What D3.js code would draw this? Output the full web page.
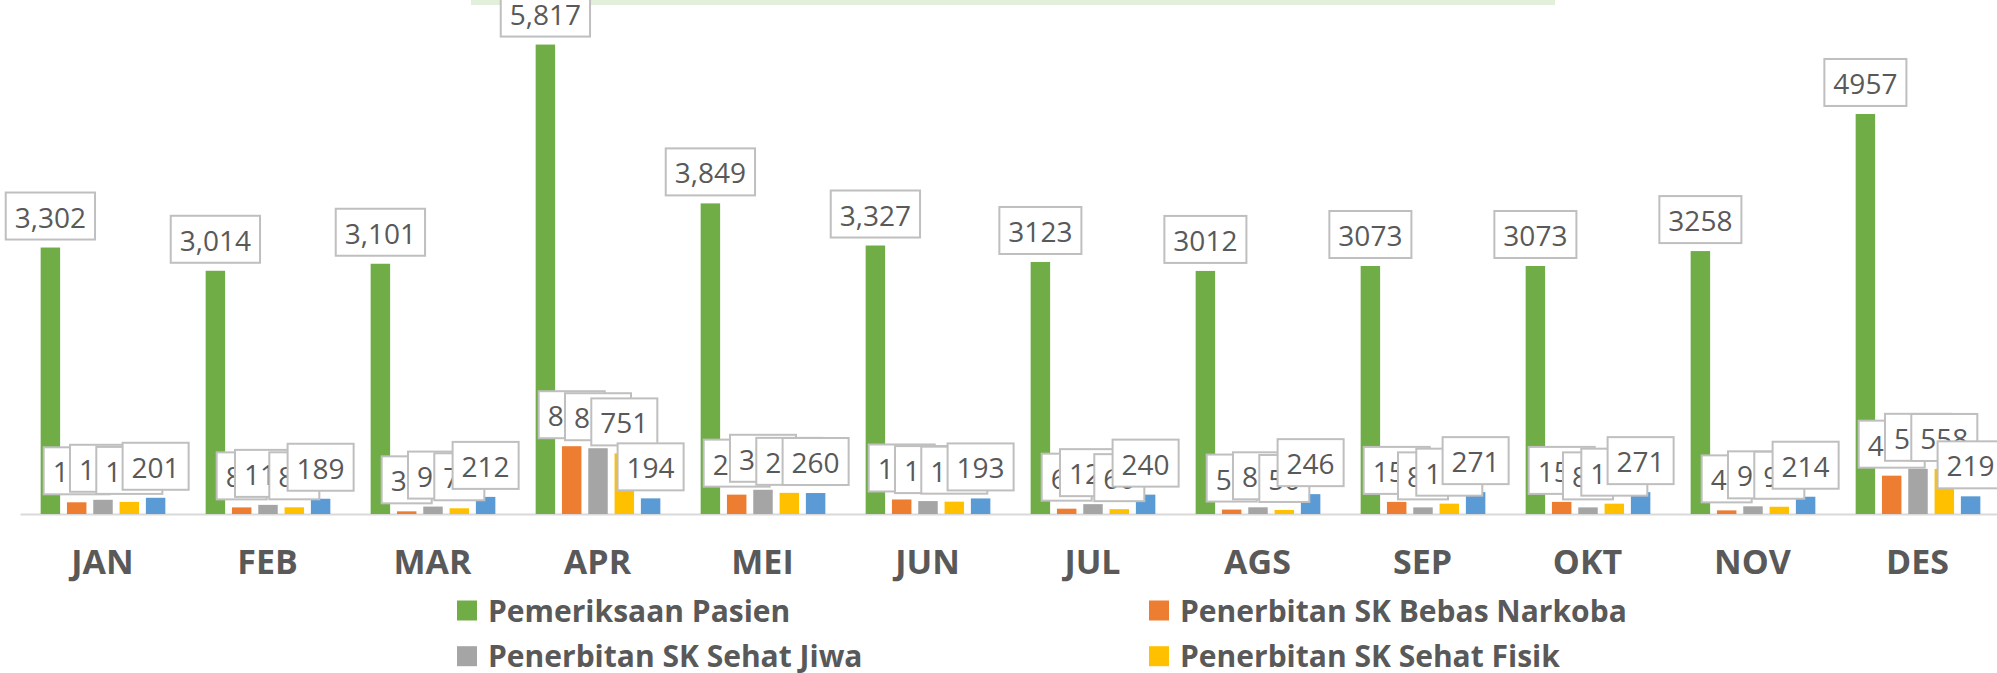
<!DOCTYPE html>
<html>
<head>
<meta charset="utf-8">
<script src="https://cdn.jsdelivr.net/npm/d3@7"></script>
<style>
  html, body { margin: 0; padding: 0; background: #fff; overflow: hidden; }
  svg { display: block; }
</style>
</head>
<body>
<div id="chart"></div>
<script>
// data
const bulan = ["JAN", "FEB", "MAR", "APR", "MEI", "JUN", "JUL", "AGS", "SEP", "OKT", "NOV", "DES"];
const pemeriksaanPasien = [3302, 3014, 3101, 5817, 3849, 3327, 3123, 3012, 3073, 3073, 3258, 4957];
const skBebasNarkoba = [145, 82, 33, 840, 240, 180, 66, 55, 150, 150, 45, 475];
const skSehatJiwa = [176, 113, 92, 815, 300, 160, 122, 83, 82, 82, 95, 560];
const skSehatFisik = [150, 83, 71, 751, 262, 153, 60, 50, 128, 128, 90, 558];
const seriBiru = [201, 189, 212, 194, 260, 193, 240, 246, 271, 271, 214, 219];
// labels of the first six months use a thousands separator
const labelKoma = [true, true, true, true, true, true, false, false, false, false, false, false];

const seri = [
  { nama: "Pemeriksaan Pasien", nilai: pemeriksaanPasien, warna: "#70ad47" },
  { nama: "Penerbitan SK Bebas Narkoba", nilai: skBebasNarkoba, warna: "#ed7d31" },
  { nama: "Penerbitan SK Sehat Jiwa", nilai: skSehatJiwa, warna: "#a5a5a5" },
  { nama: "Penerbitan SK Sehat Fisik", nilai: skSehatFisik, warna: "#ffc000" },
  { nama: "Seri 5", nilai: seriBiru, warna: "#5b9bd5" }
];

const width = 1997;
const height = 673;
const baseY = 514;
const teks = "#595959";
const font = "'Open Sans', 'Noto Sans', sans-serif";

const svg = d3.select("#chart")
  .append("svg")
  .attr("width", width)
  .attr("height", height);

// pale green strip of the (cropped) title box
svg.append("rect")
  .attr("x", 471).attr("y", 0)
  .attr("width", 1084).attr("height", 5)
  .attr("fill", "#e2efda");

const x0 = d3.scaleBand()
  .domain(bulan)
  .range([20.5, 20.5 + 165 * bulan.length]);

const x1 = d3.scaleBand()
  .domain(seri.map(s => s.nama))
  .range([0, x0.bandwidth()])
  .paddingInner(0.26)
  .paddingOuter(0.766);

const y = d3.scaleLinear()
  .domain([0, 7000])
  .range([baseY, baseY - 7000 * 0.0807]);

// axis line
svg.append("line")
  .attr("x1", x0.range()[0]).attr("x2", x0.range()[1])
  .attr("y1", baseY + 0.5).attr("y2", baseY + 0.5)
  .attr("stroke", "#d9d9d9")
  .attr("stroke-width", 2);

// bars
const grup = svg.selectAll(".seri")
  .data(seri)
  .enter()
  .append("g")
  .attr("class", "seri");

grup.selectAll("rect")
  .data(s => s.nilai.map((v, i) => ({ v, i, s })))
  .enter()
  .append("rect")
  .attr("x", d => x0(bulan[d.i]) + x1(d.s.nama))
  .attr("y", d => y(d.v))
  .attr("width", x1.bandwidth())
  .attr("height", d => baseY - y(d.v))
  .attr("fill", d => d.s.warna);

// data labels (boxed), later series drawn on top
const fmt = d3.format(",");
seri.forEach(s => {
  s.nilai.forEach((v, i) => {
    const cx = x0(bulan[i]) + x1(s.nama) + x1.bandwidth() / 2;
    const bawah = y(v) - 8;
    const g = svg.append("g");
    const box = g.append("rect");
    const t = g.append("text")
      .attr("x", cx)
      .attr("y", bawah - 12)
      .attr("text-anchor", "middle")
      .style("font-family", font)
      .style("font-size", "28px")
      .attr("fill", teks)
      .text(labelKoma[i] ? fmt(v) : String(v));
    const w = t.node().getComputedTextLength() + 18;
    box.attr("x", cx - w / 2)
      .attr("y", bawah - 47)
      .attr("width", w)
      .attr("height", 47)
      .attr("fill", "#fff")
      .attr("stroke", "#bfbfbf")
      .attr("stroke-width", 2);
  });
});

// month labels
svg.selectAll(".bulan")
  .data(bulan)
  .enter()
  .append("text")
  .attr("x", d => x0(d) + 82)
  .attr("y", 574)
  .attr("text-anchor", "middle")
  .style("font-family", font)
  .style("font-size", "34px")
  .style("font-weight", "bold")
  .attr("fill", teks)
  .text(d => d);

// legend (two columns, third row falls outside the picture)
const legenda = svg.selectAll(".leg")
  .data(seri.slice(0, 4))
  .enter()
  .append("g")
  .attr("transform", (d, i) => `translate(${i % 2 === 0 ? 457 : 1149},${600.5 + Math.floor(i / 2) * 45.7})`);

legenda.append("rect")
  .attr("width", 20)
  .attr("height", 20)
  .attr("fill", d => d.warna);

legenda.append("text")
  .attr("x", 31)
  .attr("y", 21)
  .style("font-family", font)
  .style("font-size", "30px")
  .style("font-weight", "bold")
  .attr("fill", teks)
  .text(d => d.nama);
</script>
</body>
</html>
